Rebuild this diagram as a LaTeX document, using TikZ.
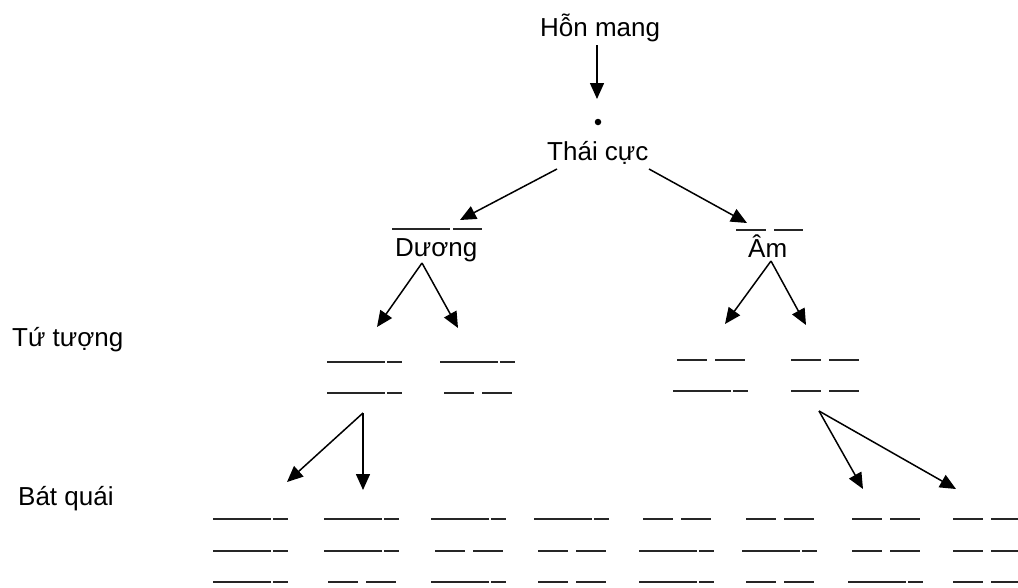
\documentclass[tikz,border=0pt]{standalone}
\usepackage{fontspec}
\setmainfont{Liberation Sans}
\usetikzlibrary{arrows.meta}
\tikzset{
  lbl/.style={inner sep=0pt, anchor=base west, font=\fontsize{26}{30}\selectfont},
  arr/.style={line width=1.5pt, -{Triangle[length=16pt,width=14pt]}},
  bar/.style={line width=2pt, draw=black!85},
  yang/.pic={\draw[bar] (0,0) -- (58,0); \draw[bar] (60,0) -- (75,0);},
  yin/.pic={\draw[bar] (4,0) -- (34,0); \draw[bar] (42,0) -- (72,0);},
}
\begin{document}
\begin{tikzpicture}[x=1pt,y=-1pt]
\useasboundingbox (0,0) rectangle (1018,587);
\clip (0,0) rectangle (1018,587);
% texts
\node[lbl] (hon) at (540,36) {Hỗn mang};
\node[circle, fill=black, inner sep=0pt, minimum size=6.5pt] (dot) at (598,122) {};
\node[lbl] (thai) at (547,160) {Thái cực};
\node[lbl] (duong) at (395,256) {Dương};
\node[lbl] (am) at (748,257) {Âm};
\node[lbl] (tu) at (12,346) {Tứ tượng};
\node[lbl] (bat) at (18,505) {Bát quái};
% Duong / Am lines
\draw[bar] (392,229) -- (450,229);
\draw[bar] (453,229) -- (482,229);
\draw[bar] (736,230) -- (766,230);
\draw[bar] (774,230) -- (803,230);
% arrow coordinates
\coordinate (a0s) at (597,45);  \coordinate (a0e) at (597,99);
\coordinate (a1s) at (557,169); \coordinate (a1e) at (460,220);
\coordinate (a2s) at (649,169); \coordinate (a2e) at (747,223);
\coordinate (d0) at (422,263); \coordinate (d1) at (377,327); \coordinate (d2) at (458,328);
\coordinate (m0) at (771,261); \coordinate (m1) at (725,324); \coordinate (m2) at (806,325);
\coordinate (l0) at (363,413); \coordinate (l1) at (287,482); \coordinate (l2) at (363,490);
\coordinate (r0) at (819,411); \coordinate (r1) at (863,489); \coordinate (r2) at (956,489);
\draw[arr] (a0s) -- (a0e);
\draw[arr] (a1s) -- (a1e);
\draw[arr] (a2s) -- (a2e);
\draw[arr] (d0) -- (d1);
\draw[arr] (d0) -- (d2);
\draw[arr] (m0) -- (m1);
\draw[arr] (m0) -- (m2);
\draw[arr] (l0) -- (l1);
\draw[arr] (l0) -- (l2);
\draw[arr] (r0) -- (r1);
\draw[arr] (r0) -- (r2);
% Tu tuong
\pic at (327,362) {yang}; \pic at (327,393) {yang};
\pic at (440,362) {yang}; \pic at (440,393) {yin};
\pic at (673,360) {yin};  \pic at (673,391) {yang};
\pic at (787,360) {yin};  \pic at (787,391) {yin};
% Bat quai
\foreach \x/\a/\b/\c in {213/yang/yang/yang, 324/yang/yang/yin, 431/yang/yin/yang, 534/yang/yin/yin,
                          639/yin/yang/yang, 742/yin/yang/yin, 848/yin/yin/yang, 949/yin/yin/yin} {
  \pic at (\x,519) {\a};
  \pic at (\x,551) {\b};
  \pic at (\x,582) {\c};
}
\end{tikzpicture}
\end{document}
